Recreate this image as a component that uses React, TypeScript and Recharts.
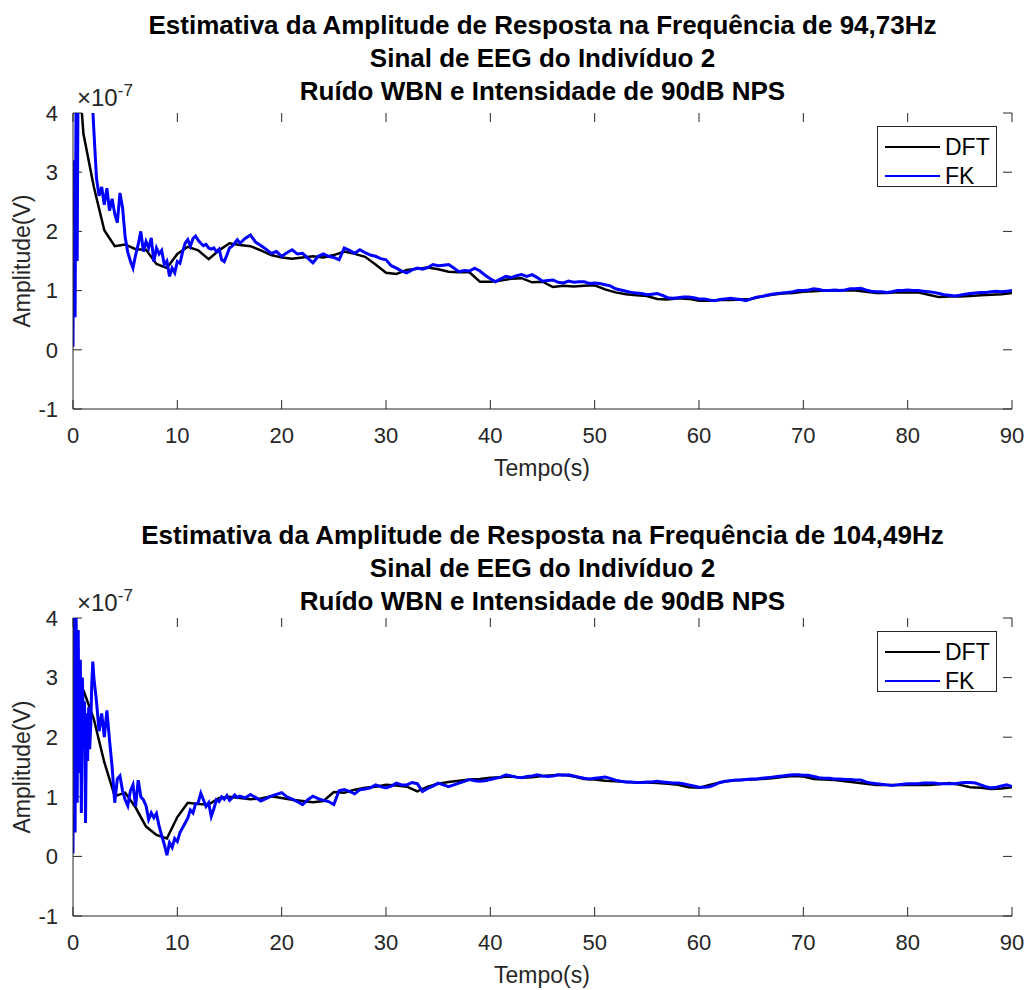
import React from 'react';
import { LineChart, Line, XAxis, YAxis, ReferenceLine } from 'recharts';

const xTicks = [0, 10, 20, 30, 40, 50, 60, 70, 80, 90];
const yTicks = [-1, 0, 1, 2, 3, 4];

// DFT estimate, one value per second (top starts at t = 0, bottom at t = 1)
const dftTop = [
  6.0,
  3.65, 2.75, 2.02, 1.75, 1.78, 1.70, 1.69, 1.45, 1.38, 1.62,
  1.74, 1.68, 1.53, 1.68, 1.80, 1.77, 1.75, 1.68, 1.60, 1.56,
  1.54, 1.56, 1.58, 1.56, 1.60, 1.66, 1.62, 1.57, 1.44, 1.30,
  1.28, 1.35, 1.37, 1.39, 1.36, 1.32, 1.31, 1.31, 1.15, 1.15,
  1.17, 1.20, 1.21, 1.14, 1.15, 1.06, 1.08, 1.07, 1.08, 1.09,
  1.02, 0.97, 0.94, 0.92, 0.91, 0.86, 0.85, 0.87, 0.86, 0.83,
  0.83, 0.84, 0.84, 0.85, 0.86, 0.90, 0.93, 0.95, 0.96, 0.98,
  0.99, 1.00, 1.00, 1.00, 1.00, 0.98, 0.96, 0.96, 0.97, 0.97,
  0.97, 0.93, 0.89, 0.90, 0.90, 0.91, 0.92, 0.93, 0.94, 0.96,
];
const dftBottom = [
  2.79, 2.30, 1.58, 1.01, 1.07, 0.82, 0.50, 0.36, 0.30, 0.66,
  0.90, 0.88, 0.87, 0.98, 1.00, 0.98, 0.96, 0.97, 1.01, 0.98,
  0.95, 0.93, 0.91, 0.93, 1.08, 1.07, 1.12, 1.15, 1.17, 1.20,
  1.19, 1.17, 1.09, 1.17, 1.22, 1.25, 1.27, 1.29, 1.30, 1.32,
  1.33, 1.34, 1.32, 1.33, 1.35, 1.36, 1.37, 1.34, 1.30, 1.29,
  1.27, 1.26, 1.25, 1.24, 1.24, 1.23, 1.22, 1.20, 1.16, 1.15,
  1.20, 1.24, 1.27, 1.28, 1.29, 1.30, 1.31, 1.33, 1.35, 1.34,
  1.30, 1.29, 1.28, 1.26, 1.24, 1.22, 1.20, 1.20, 1.20, 1.20,
  1.20, 1.20, 1.21, 1.23, 1.20, 1.16, 1.15, 1.13, 1.14, 1.16,
];

// FK estimate: 0-1.9 s every 0.1 s, 2-15.75 s every 0.25 s, 16-90 s every 0.5 s
const fkTopStart = [
  0.05, 3.2, 0.55, 4.6, 1.5, 5.2, 5.6, 6.0, 5.7, 6.3,
  5.9, 5.6, 6.0, 5.4, 5.1, 5.3, 4.8, 4.6, 4.3, 4.05,
];
const fkTopEarly = [
  3.7, 2.9, 2.6, 2.75, 2.45, 2.73, 2.35, 2.55, 2.3, 2.15,
  2.65, 2.4, 1.9, 1.65, 1.5, 1.38, 1.6, 1.78, 2.0, 1.66,
  1.83, 1.72, 1.89, 1.49, 1.72, 1.62, 1.68, 1.44, 1.5, 1.24,
  1.38, 1.3, 1.49, 1.46, 1.65, 1.8, 1.86, 1.75, 1.88, 1.92,
  1.85, 1.8, 1.76, 1.78, 1.72, 1.7, 1.72, 1.66, 1.7, 1.52,
  1.49, 1.6, 1.72, 1.75, 1.8, 1.86,
];
const fkTopLate = [
  1.80, 1.88, 1.94, 1.82, 1.76, 1.70, 1.63, 1.66, 1.58, 1.64,
  1.69, 1.62, 1.63, 1.55, 1.47, 1.58, 1.62, 1.58, 1.56, 1.52,
  1.72, 1.68, 1.63, 1.69, 1.64, 1.60, 1.58, 1.54, 1.52, 1.42,
  1.38, 1.33, 1.30, 1.35, 1.38, 1.36, 1.39, 1.44, 1.42, 1.43,
  1.44, 1.38, 1.32, 1.34, 1.33, 1.38, 1.33, 1.26, 1.20, 1.15,
  1.20, 1.24, 1.22, 1.25, 1.27, 1.24, 1.27, 1.22, 1.16, 1.17,
  1.18, 1.14, 1.13, 1.16, 1.14, 1.15, 1.15, 1.12, 1.13, 1.12,
  1.10, 1.08, 1.03, 1.01, 0.99, 0.97, 0.96, 0.95, 0.93, 0.94,
  0.95, 0.92, 0.88, 0.87, 0.88, 0.89, 0.89, 0.88, 0.86, 0.86,
  0.84, 0.83, 0.85, 0.86, 0.87, 0.86, 0.85, 0.83, 0.86, 0.89,
  0.90, 0.92, 0.94, 0.95, 0.96, 0.97, 0.98, 1.00, 1.00, 1.01,
  1.03, 1.02, 1.00, 1.00, 1.01, 1.00, 1.01, 1.03, 1.03, 1.04,
  1.01, 0.99, 0.98, 0.98, 0.97, 0.98, 1.00, 1.00, 1.01, 1.00,
  1.00, 0.99, 0.98, 0.97, 0.95, 0.93, 0.92, 0.91, 0.92, 0.94,
  0.95, 0.96, 0.97, 0.97, 0.98, 0.99, 0.98, 0.99, 1.00,
];

const fkBottomStart = [
  0.05, 4.3, 0.4, 4.1, 0.9, 3.8, 1.4, 3.3, 0.73, 3.0,
  2.2, 2.6, 0.56, 2.4, 1.6, 2.5, 1.8, 2.2, 2.9, 3.27,
];
const fkBottomEarly = [
  3.0, 2.6, 2.1, 2.4, 2.0, 2.45, 1.95, 1.5, 0.9, 1.3,
  1.35, 1.1, 0.95, 0.85, 1.1, 1.2, 0.84, 1.28, 1.0, 0.95,
  0.85, 0.62, 0.73, 0.65, 0.72, 0.51, 0.35, 0.2, 0.02, 0.23,
  0.15, 0.3, 0.25, 0.4, 0.48, 0.56, 0.64, 0.78, 0.73, 0.88,
  0.9, 1.06, 0.95, 0.84, 0.9, 0.67, 0.8, 0.95, 0.92, 1.0,
  0.96, 1.02, 0.94, 0.98, 1.03, 0.99,
];
const fkBottomLate = [
  1.01, 0.98, 1.04, 0.99, 0.93, 0.97, 1.01, 1.04, 1.07, 1.00,
  0.96, 0.92, 0.87, 0.95, 1.01, 0.97, 0.94, 0.92, 0.87, 1.10,
  1.12, 1.09, 1.05, 1.12, 1.13, 1.15, 1.20, 1.17, 1.15, 1.18,
  1.23, 1.20, 1.20, 1.24, 1.22, 1.09, 1.14, 1.18, 1.23, 1.20,
  1.17, 1.20, 1.23, 1.26, 1.29, 1.27, 1.26, 1.27, 1.29, 1.31,
  1.33, 1.37, 1.35, 1.33, 1.32, 1.34, 1.35, 1.37, 1.35, 1.34,
  1.35, 1.37, 1.36, 1.37, 1.35, 1.33, 1.31, 1.30, 1.31, 1.32,
  1.33, 1.31, 1.28, 1.26, 1.25, 1.25, 1.24, 1.24, 1.25, 1.25,
  1.26, 1.25, 1.24, 1.23, 1.23, 1.22, 1.20, 1.18, 1.16, 1.16,
  1.17, 1.20, 1.24, 1.26, 1.27, 1.28, 1.28, 1.29, 1.30, 1.30,
  1.31, 1.32, 1.33, 1.34, 1.35, 1.36, 1.37, 1.37, 1.36, 1.36,
  1.34, 1.32, 1.31, 1.31, 1.30, 1.30, 1.29, 1.29, 1.28, 1.28,
  1.25, 1.23, 1.22, 1.21, 1.20, 1.19, 1.20, 1.21, 1.22, 1.22,
  1.22, 1.23, 1.23, 1.23, 1.22, 1.22, 1.22, 1.22, 1.23, 1.24,
  1.24, 1.23, 1.20, 1.17, 1.15, 1.16, 1.18, 1.20, 1.17,
];

const AXIS = '#262626';
const FONT = '"Liberation Sans", Arial, Helvetica, sans-serif';
const X_DOMAIN: [number, number] = [0, 90];
const Y_DOMAIN: [number, number] = [-1, 4];
const TICK_PX = 9;
const PLOT_W = 939;

// attach sample times to a run of values
function samples(start: number, step: number, values: number[]) {
  return values.map((v, i) => ({ t: Math.round((start + i * step) * 100) / 100, v }));
}

const panels = [
  {
    top: 0,
    height: 480,
    titleTop: 9,
    margin: { top: 113, right: 15, bottom: 31, left: 0 },
    freq: '94,73Hz',
    dft: samples(0, 1, dftTop),
    fk: [...samples(0, 0.1, fkTopStart), ...samples(2, 0.25, fkTopEarly), ...samples(16, 0.5, fkTopLate)],
  },
  {
    top: 500,
    height: 490,
    titleTop: 519,
    margin: { top: 118, right: 15, bottom: 34, left: 0 },
    freq: '104,49Hz',
    dft: samples(1, 1, dftBottom),
    fk: [
      ...samples(0, 0.1, fkBottomStart),
      ...samples(2, 0.25, fkBottomEarly),
      ...samples(16, 0.5, fkBottomLate),
    ],
  },
];

function Legend({ top }: { top: number }) {
  const rows = [
    { name: 'DFT', color: '#000000' },
    { name: 'FK', color: '#0000ff' },
  ];
  return (
    <div
      style={{
        position: 'absolute',
        left: 877,
        top,
        width: 120,
        height: 61,
        border: `1px solid ${AXIS}`,
        background: '#fff',
        boxSizing: 'border-box',
      }}
    >
      {rows.map((r, i) => (
        <div key={r.name} style={{ position: 'absolute', left: 0, top: 7 + i * 29, height: 26, display: 'flex', alignItems: 'center' }}>
          <svg width={64} height={26}>
            <line x1={7} x2={62} y1={13} y2={13} stroke={r.color} strokeWidth={2} />
          </svg>
          <span style={{ fontSize: 23, fontFamily: FONT, color: '#000', marginLeft: 3 }}>{r.name}</span>
        </div>
      ))}
    </div>
  );
}

function Panel({ p }: { p: (typeof panels)[number] }) {
  const plotTop = p.top + p.margin.top;
  const plotBottom = p.top + p.height - p.margin.bottom - 40;
  // tick length in data units
  const dy = (TICK_PX * (Y_DOMAIN[1] - Y_DOMAIN[0])) / (plotBottom - plotTop);
  const dx = (TICK_PX * (X_DOMAIN[1] - X_DOMAIN[0])) / PLOT_W;
  const tickStyle = { fill: AXIS, fontSize: 22, fontFamily: FONT };
  const tickProps = { xAxisId: 'b', yAxisId: 'l', stroke: AXIS, strokeWidth: 1, ifOverflow: 'visible' as const };
  return (
    <>
      <div
        style={{
          position: 'absolute',
          left: 73,
          width: 939,
          top: p.titleTop,
          textAlign: 'center',
          fontFamily: FONT,
          fontWeight: 'bold',
          fontSize: 26,
          lineHeight: '33px',
          color: '#000',
          whiteSpace: 'nowrap',
        }}
      >
        <div>Estimativa da Amplitude de Resposta na Frequência de {p.freq}</div>
        <div>Sinal de EEG do Indivíduo 2</div>
        <div>Ruído WBN e Intensidade de 90dB NPS</div>
      </div>
      <div style={{ position: 'absolute', left: 0, top: p.top }}>
        <LineChart width={1027} height={p.height} margin={p.margin}>
          <XAxis
            xAxisId="b"
            type="number"
            dataKey="t"
            domain={X_DOMAIN}
            ticks={xTicks}
            interval={0}
            allowDataOverflow
            height={40}
            tickLine={false}
            tickMargin={12}
            stroke={AXIS}
            tick={tickStyle}
          />
          <XAxis
            xAxisId="t"
            orientation="top"
            type="number"
            dataKey="t"
            domain={X_DOMAIN}
            allowDataOverflow
            height={0}
            tickLine={false}
            stroke={AXIS}
            tick={false}
          />
          <YAxis
            yAxisId="l"
            type="number"
            domain={Y_DOMAIN}
            ticks={yTicks}
            interval={0}
            allowDataOverflow
            width={73}
            tickLine={false}
            tickMargin={9}
            stroke={AXIS}
            tick={tickStyle}
          />
          <YAxis
            yAxisId="r"
            orientation="right"
            type="number"
            domain={Y_DOMAIN}
            allowDataOverflow
            width={0}
            tickLine={false}
            stroke={AXIS}
            tick={false}
          />
          {xTicks.map((t) => (
            <ReferenceLine key={`xb${t}`} {...tickProps} segment={[{ x: t, y: Y_DOMAIN[0] }, { x: t, y: Y_DOMAIN[0] + dy }]} />
          ))}
          {xTicks.map((t) => (
            <ReferenceLine key={`xt${t}`} {...tickProps} segment={[{ x: t, y: Y_DOMAIN[1] }, { x: t, y: Y_DOMAIN[1] - dy }]} />
          ))}
          {yTicks.map((v) => (
            <ReferenceLine key={`yl${v}`} {...tickProps} segment={[{ x: X_DOMAIN[0], y: v }, { x: X_DOMAIN[0] + dx, y: v }]} />
          ))}
          {yTicks.map((v) => (
            <ReferenceLine key={`yr${v}`} {...tickProps} segment={[{ x: X_DOMAIN[1], y: v }, { x: X_DOMAIN[1] - dx, y: v }]} />
          ))}
          <Line
            xAxisId="b"
            yAxisId="l"
            data={p.dft}
            dataKey="v"
            type="linear"
            stroke="#000000"
            strokeWidth={2.5}
            dot={false}
            isAnimationActive={false}
          />
          <Line
            xAxisId="b"
            yAxisId="l"
            data={p.fk}
            dataKey="v"
            type="linear"
            stroke="#0000ff"
            strokeWidth={3}
            dot={false}
            isAnimationActive={false}
          />
        </LineChart>
      </div>
      <div style={{ position: 'absolute', left: 77, top: plotTop - 29, fontFamily: FONT, fontSize: 24, color: AXIS, whiteSpace: 'nowrap', lineHeight: '28px' }}>
        ×10<span style={{ fontSize: 17, position: 'relative', top: -10 }}>-7</span>
      </div>
      <div
        style={{
          position: 'absolute',
          left: 22,
          top: (plotTop + plotBottom) / 2,
          transform: 'translate(-50%, -50%) rotate(-90deg)',
          fontFamily: FONT,
          fontSize: 23,
          color: AXIS,
          whiteSpace: 'nowrap',
        }}
      >
        Amplitude(V)
      </div>
      <div
        style={{
          position: 'absolute',
          left: 542,
          top: plotBottom + 59,
          transform: 'translate(-50%, -50%)',
          fontFamily: FONT,
          fontSize: 23,
          color: AXIS,
          whiteSpace: 'nowrap',
        }}
      >
        Tempo(s)
      </div>
      <Legend top={plotTop + 13} />
    </>
  );
}

export default function App() {
  return (
    <div style={{ position: 'absolute', left: 0, top: 0, width: 1027, height: 990, background: '#fff', overflow: 'hidden' }}>
      {panels.map((p) => (
        <Panel key={p.freq} p={p} />
      ))}
    </div>
  );
}
